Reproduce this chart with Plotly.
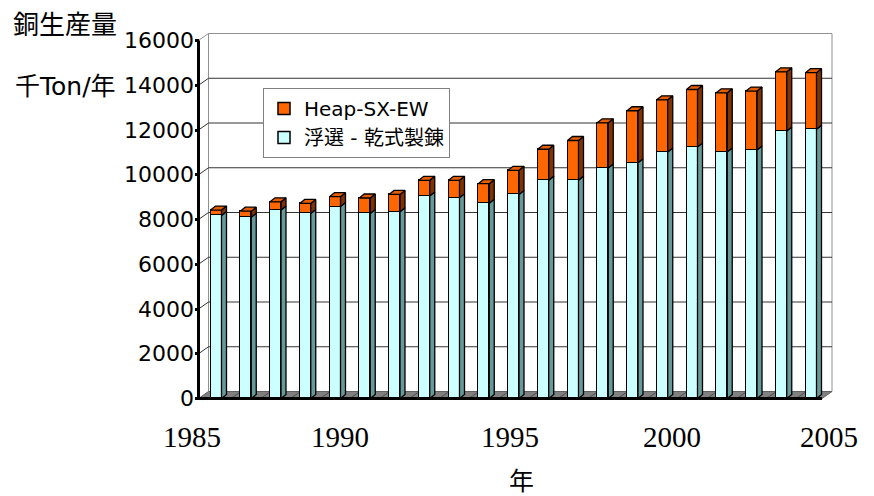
import plotly.graph_objects as go

# Copper production by process route (thousand tonnes per year)
years = list(range(1985, 2006))
flotation_smelting = [8180, 8100, 8420, 8270, 8580, 8270, 8350, 9050, 8970, 8730, 9120,
                      9760, 9760, 10300, 10540, 11020, 11240, 11020, 11110, 11960, 12030]
heap_sx_ew = [240, 270, 370, 450, 440, 690, 770, 700, 780, 870, 1080,
              1380, 1770, 2020, 2320, 2330, 2570, 2640, 2630, 2640, 2530]
y_ticks = list(range(0, 16001, 2000))
x_label_years = [1985, 1990, 1995, 2000, 2005]

series_names = ["浮選 - 乾式製錬", "Heap-SX-EW"]
face_colors = ["#CCFFFF", "#FF6600"]
side_colors = ["#669999", "#803300"]
top_color = "#E65C00"

# ---- page geometry (pixels) ----
W, H = 874, 496
ML, MR, MT, MB = 186, 4, 30, 90
PX_YEAR = 29.75          # pixels per category
PX_UNIT = 22.375 / 1000  # pixels per thousand-tonne unit
FIRST_CAT_PX = 216       # centre of the first category
ZERO_PX = 398.5          # baseline of the value axis
plot_w = W - ML - MR
plot_h = H - MT - MB

x_lo = years[0] - (FIRST_CAT_PX - ML) / PX_YEAR
x_hi = x_lo + plot_w / PX_YEAR
y_hi = (ZERO_PX - MT) / PX_UNIT
y_lo = y_hi - plot_h / PX_UNIT


def px_to_x(px):
    return years[0] + (px - FIRST_CAT_PX) / PX_YEAR


def paper_x(px):
    return (px - ML) / plot_w


def paper_y(py):
    return (H - MB - py) / plot_h


# depth of the chart box and of each column
WALL_DX, WALL_DY = 10 / PX_YEAR, 7 / PX_UNIT
BAR_DX, BAR_DY = 5 / PX_YEAR, 4 / PX_UNIT
BAR_W = 11 / PX_YEAR

FL = px_to_x(198.5)   # front-left corner of the floor
FR = px_to_x(822)     # front-right corner of the floor
V_MAX = y_ticks[-1]

shapes = []
# back wall
shapes.append(dict(type="rect", xref="x", yref="y", layer="below",
                   x0=FL + WALL_DX, x1=FR + WALL_DX, y0=WALL_DY, y1=V_MAX + WALL_DY,
                   fillcolor="white", line=dict(color="#909090", width=1)))
# gridlines on the back wall and the left side wall
for v in y_ticks[1:]:
    col = "#909090" if v == V_MAX else "#333333"
    if v != V_MAX:
        shapes.append(dict(type="line", xref="x", yref="y", layer="below",
                           x0=FL + WALL_DX, x1=FR + WALL_DX, y0=v + WALL_DY, y1=v + WALL_DY,
                           line=dict(color=col, width=1)))
    shapes.append(dict(type="line", xref="x", yref="y", layer="below",
                       x0=FL, x1=FL + WALL_DX, y0=v, y1=v + WALL_DY,
                       line=dict(color=col, width=1)))
# floor
shapes.append(dict(type="path", xref="x", yref="y", layer="below",
                   path=f"M{FL},0 L{FR},0 L{FR + WALL_DX},{WALL_DY} L{FL + WALL_DX},{WALL_DY} Z",
                   fillcolor="#808080", line=dict(color="#606060", width=1)))
for yr in years[1:]:
    b = yr - 0.5
    shapes.append(dict(type="line", xref="x", yref="y", layer="below",
                       x0=b, x1=b + WALL_DX, y0=0, y1=WALL_DY,
                       line=dict(color="#505050", width=1)))
# front axis lines
shapes.append(dict(type="line", xref="x", yref="y", layer="above",
                   x0=FL, x1=FR, y0=0, y1=0, line=dict(color="black", width=3)))
shapes.append(dict(type="line", xref="x", yref="y", layer="above",
                   x0=FL, x1=FL, y0=0, y1=V_MAX, line=dict(color="black", width=3)))

fig = go.Figure()

# front faces of the stacked columns
fig.add_trace(go.Bar(x=years, y=flotation_smelting, name=series_names[0], width=BAR_W,
                     marker=dict(color=face_colors[0], line=dict(color="black", width=1.5)),
                     legendgroup="a"))
fig.add_trace(go.Bar(x=years, y=heap_sx_ew, name=series_names[1], width=BAR_W,
                     marker=dict(color=face_colors[1], line=dict(color="black", width=1.5)),
                     legendgroup="b"))

# side faces and top faces of the columns
side_x = [[], []]
side_y = [[], []]
top_x, top_y = [], []
for i, yr in enumerate(years):
    lo0, hi0 = 0, flotation_smelting[i]
    lo1, hi1 = hi0, hi0 + heap_sx_ew[i]
    xr = yr + BAR_W / 2
    xl = yr - BAR_W / 2
    for k, (lo, hi) in enumerate([(lo0, hi0), (lo1, hi1)]):
        side_x[k] += [xr, xr + BAR_DX, xr + BAR_DX, xr, xr, None]
        side_y[k] += [lo, lo + BAR_DY, hi + BAR_DY, hi, lo, None]
    top_x += [xl, xl + BAR_DX, xr + BAR_DX, xr, xl, None]
    top_y += [hi1, hi1 + BAR_DY, hi1 + BAR_DY, hi1, hi1, None]

for k in range(2):
    fig.add_trace(go.Scatter(x=side_x[k], y=side_y[k], mode="lines", fill="toself",
                             fillcolor=side_colors[k], line=dict(color="black", width=1.3),
                             showlegend=False, hoverinfo="skip"))
fig.add_trace(go.Scatter(x=top_x, y=top_y, mode="lines", fill="toself",
                         fillcolor=top_color, line=dict(color="black", width=1.3),
                         showlegend=False, hoverinfo="skip"))

annotations = []
label_px = [192, 340, 510, 672, 828.5]
for yr, px in zip(x_label_years, label_px):
    annotations.append(dict(text=str(yr), x=px_to_x(px), xref="x", y=paper_y(437.5), yref="paper",
                            showarrow=False, xanchor="center", yanchor="middle",
                            font=dict(family="Liberation Serif", size=29, color="black")))
annotations.append(dict(text="年", x=paper_x(521.5), xref="paper", y=paper_y(479), yref="paper",
                        showarrow=False, xanchor="center", yanchor="middle",
                        font=dict(family="Noto Sans CJK JP", size=25, color="black")))
annotations.append(dict(text="銅生産量", x=paper_x(65), xref="paper", y=paper_y(22), yref="paper",
                        showarrow=False, xanchor="center", yanchor="middle",
                        font=dict(family="Noto Sans CJK JP", size=26, color="black")))
annotations.append(dict(text="千Ton/年", x=paper_x(65), xref="paper", y=paper_y(86), yref="paper",
                        showarrow=False, xanchor="center", yanchor="middle",
                        font=dict(family="DejaVu Sans, Noto Sans CJK JP", size=25, color="black")))

fig.update_layout(
    width=W, height=H,
    margin=dict(l=ML, r=MR, t=MT, b=MB, pad=0),
    paper_bgcolor="white", plot_bgcolor="rgba(0,0,0,0)",
    barmode="stack", bargap=0,
    showlegend=True,
    legend=dict(x=paper_x(263), y=paper_y(88), xanchor="left", yanchor="top",
                traceorder="reversed", tracegroupgap=12,
                bgcolor="white", bordercolor="#808080", borderwidth=1,
                font=dict(family="DejaVu Sans, Noto Sans CJK JP", size=20, color="black")),
    xaxis=dict(range=[x_lo, x_hi], showgrid=False, zeroline=False, showline=False,
               showticklabels=False, ticks=""),
    yaxis=dict(range=[y_lo, y_hi], anchor="free", position=paper_x(198.5),
               tickvals=y_ticks, ticktext=[str(v) for v in y_ticks],
               ticks="outside", ticklen=4, tickwidth=2.5, tickcolor="black",
               ticklabelstandoff=-4,
               showgrid=False, zeroline=False, showline=False,
               tickfont=dict(family="DejaVu Sans", size=22, color="black")),
    shapes=shapes,
    annotations=annotations,
)

fig.write_html("out.html")
